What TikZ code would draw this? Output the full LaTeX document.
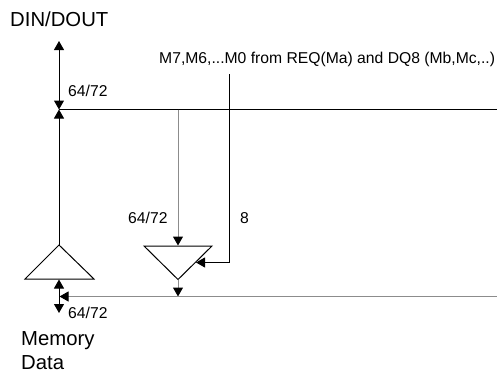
\documentclass[tikz,border=0pt]{standalone}
\usepackage{fontspec}
\setmainfont{Liberation Sans}
\usetikzlibrary{arrows.meta}
\tikzset{
  blk/.style={draw=black,line width=1pt},
  gry/.style={draw=black!45,line width=1pt},
  tip/.style={-{Triangle[length=9pt,width=10pt,black]}},
  tiptwo/.style={{Triangle[length=9pt,width=10pt,black]}-{Triangle[length=9pt,width=10pt,black]}},
  big/.style={inner sep=0pt,anchor=base west,font=\fontsize{20.3}{22}\selectfont},
  small/.style={inner sep=0pt,anchor=base west,font=\fontsize{15.7}{17}\selectfont},
  buf/.style={draw=black,line width=1pt,line join=miter},
}
\begin{document}
\begin{tikzpicture}[x=1pt,y=-1pt]
\useasboundingbox (0,0) rectangle (497,372);
% coordinates
\coordinate (top) at (59,41);
\coordinate (bus) at (59,109.5);
\coordinate (busE) at (497,109.5);
\coordinate (mTopA) at (59,245);
\coordinate (mL) at (25,279);
\coordinate (mR) at (94,279);
\coordinate (mBotTop) at (59,279.5);
\coordinate (mBotEnd) at (59,313);
\coordinate (gJ) at (59.5,296.5);
\coordinate (gE) at (497,296.5);
\coordinate (dL) at (144,246);
\coordinate (dR) at (212,246);
\coordinate (dB) at (178,279.5);
\coordinate (dIn) at (178,109.5);
\coordinate (dTop) at (178,245.5);
\coordinate (dOut) at (178,296.5);
\coordinate (sT) at (229.5,74);
\coordinate (sC) at (229.5,262.5);
\coordinate (sE) at (196,262.5);
% buffers
\draw[buf] (mTopA) -- (mR) -- (mL) -- cycle;
\draw[buf] (dL) -- (dR) -- (dB) -- cycle;
% connectors
\draw[blk,tiptwo] (top) -- (bus);
\draw[blk] (bus) -- (busE);
\draw[blk,tip] (mTopA) -- (bus);
\draw[gry,tip] (dIn) -- (dTop);
\draw[gry,tip] (dB) -- (dOut);
\draw[gry] (dOut) -- (gE);
\draw[gry,tip] (dOut) -- (gJ);
\draw[blk,tiptwo] (mBotTop) -- (mBotEnd);
\draw[blk,tip] (sT) -- (sC) -- (sE);
% labels
\node[big] (din) at (10,26) {DIN/DOUT};
\node[small] (mlist) at (159,63) {M7,M6,...M0 from REQ(Ma) and DQ8 (Mb,Mc,..)};
\node[small] (w1) at (68,96) {64/72};
\node[small] (w2) at (128,223) {64/72};
\node[small] (w3) at (240,223) {8};
\node[small] (w4) at (68,318) {64/72};
\node[big] (md1) at (21,345) {Memory};
\node[big] (md2) at (21,369) {Data};
\end{tikzpicture}
\end{document}
